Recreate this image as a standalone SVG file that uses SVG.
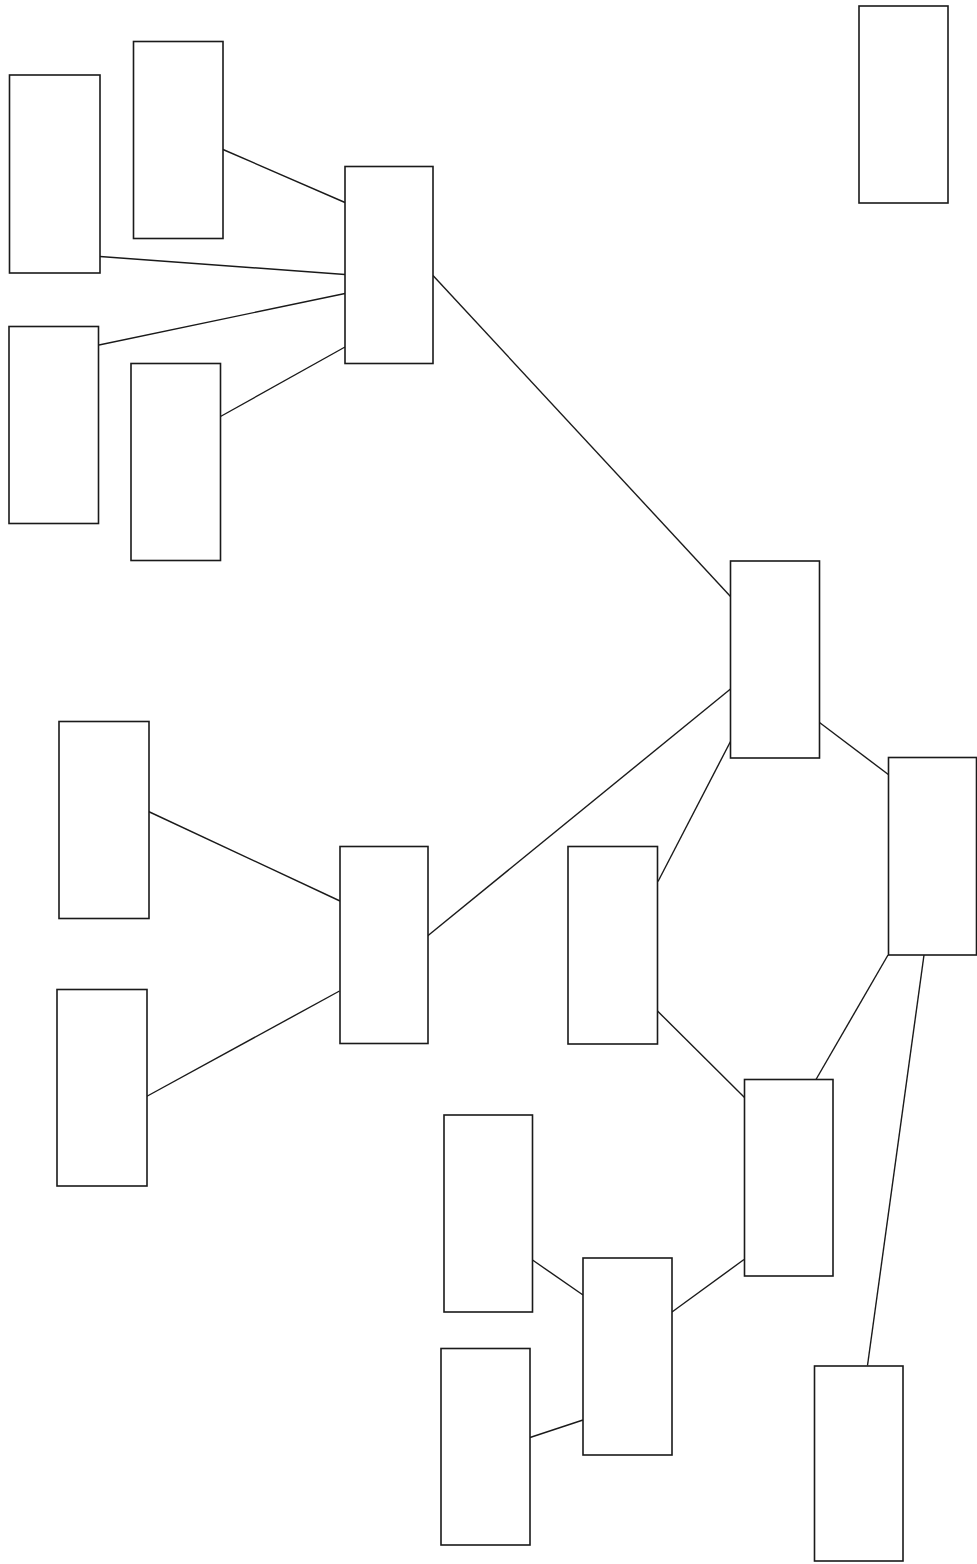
<svg xmlns="http://www.w3.org/2000/svg" width="977" height="1564" viewBox="0 0 977 1564">
<style>
.n rect{fill:#fff;stroke:#1a1a1a;stroke-width:1.6}
.e line{stroke:#1a1a1a;stroke-width:1.4}
</style>
<rect width="977" height="1564" fill="#fff"/>
<g id="connectors" class="e">
<line x1="223" y1="149.5" x2="345" y2="202.5"/>
<line x1="100" y1="256.5" x2="345" y2="274.5"/>
<line x1="99" y1="345" x2="345" y2="293.5"/>
<line x1="220.5" y1="416.5" x2="345" y2="347"/>
<line x1="433" y1="275.5" x2="730.5" y2="596.5"/>
<line x1="148.5" y1="811.5" x2="340" y2="901"/>
<line x1="146.5" y1="1096.5" x2="339.5" y2="991"/>
<line x1="427.5" y1="936" x2="730.5" y2="689"/>
<line x1="658" y1="881.5" x2="730.5" y2="741.5"/>
<line x1="819.5" y1="722.5" x2="889" y2="775"/>
<line x1="657.5" y1="1011" x2="744.5" y2="1097.5"/>
<line x1="816" y1="1079.5" x2="888" y2="955"/>
<line x1="924" y1="955" x2="867.5" y2="1365.5"/>
<line x1="672" y1="1312" x2="744" y2="1259.5"/>
<line x1="532.5" y1="1260" x2="583" y2="1295"/>
<line x1="530" y1="1437.5" x2="583" y2="1420"/>
</g>
<g id="n1" class="n"><rect x="859" y="6" width="89" height="197"/></g>
<g id="n2" class="n"><rect x="133.5" y="41.5" width="89.5" height="197"/></g>
<g id="n3" class="n"><rect x="9.5" y="75" width="90.5" height="198"/></g>
<g id="n4" class="n"><rect x="345" y="166.5" width="88" height="197"/></g>
<g id="n5" class="n"><rect x="9" y="326.5" width="89.5" height="197"/></g>
<g id="n6" class="n"><rect x="131" y="363.5" width="89.5" height="197"/></g>
<g id="n7" class="n"><rect x="730.5" y="561" width="89" height="197"/></g>
<g id="n8" class="n"><rect x="59" y="721.5" width="90" height="197"/></g>
<g id="n9" class="n"><rect x="888.5" y="757.5" width="88" height="197.5"/></g>
<g id="n10" class="n"><rect x="340" y="846.5" width="88" height="197"/></g>
<g id="n11" class="n"><rect x="568" y="846.5" width="89.5" height="197.5"/></g>
<g id="n12" class="n"><rect x="57" y="989.5" width="90" height="196.5"/></g>
<g id="n13" class="n"><rect x="744.5" y="1079.5" width="88.5" height="196.5"/></g>
<g id="n14" class="n"><rect x="444" y="1115" width="88.5" height="197"/></g>
<g id="n15" class="n"><rect x="583" y="1258" width="89" height="197"/></g>
<g id="n16" class="n"><rect x="441" y="1348.5" width="89" height="196.5"/></g>
<g id="n17" class="n"><rect x="814.5" y="1366" width="88.5" height="195"/></g>
</svg>
